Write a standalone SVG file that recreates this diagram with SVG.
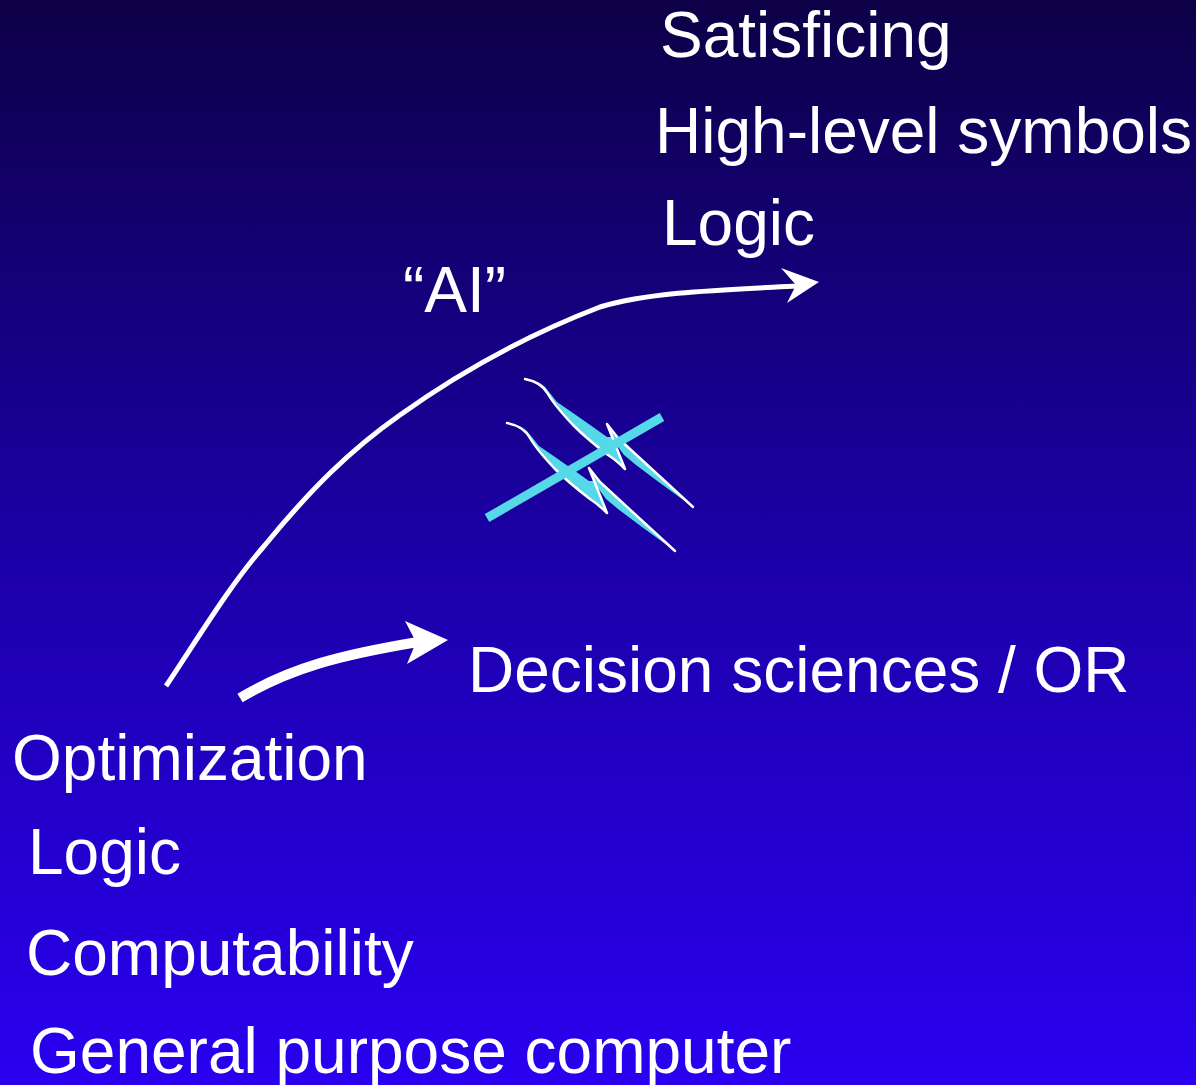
<svg xmlns="http://www.w3.org/2000/svg" width="1196" height="1085" viewBox="0 0 1196 1085">
<defs>
<linearGradient id="bg" x1="0" y1="0" x2="0" y2="1">
<stop offset="0" stop-color="#0d0047"/>
<stop offset="0.5" stop-color="#1c00a6"/>
<stop offset="1" stop-color="#2a00f0"/>
</linearGradient>
<g id="squiggle">
<path class="wave" d="M525,379 C536,381 543,385 548,394 C552,401 556,407 573,425 C585,437 595,445 608,455 C616,460 620,464 625,469 L612,437 L607,437 L593,427 L573,413 L557,402 L545,387 C540,382 533,380 525,379 Z"/>
<path class="wave" d="M607,424 L618,438 L693,507 L660,483 L636,465 L624,455 L613,440 Z"/>
<path class="wl" d="M525,379 C536,381 543,385 548,394 C552,401 556,407 573,425 C585,437 595,445 608,455 C616,460 620,464 625,469 L607,424 L618,438 L693,507"/>
</g>
</defs>
<style>
.t{font-family:"Liberation Sans",Arial,sans-serif;font-size:64px;fill:#ffffff}
.conn{fill:none;stroke:#ffffff;stroke-linecap:butt}
.head{fill:#ffffff}
.wave{fill:#55d8e8}
.wl{fill:none;stroke:#ffffff;stroke-width:2.5;stroke-linejoin:round;stroke-linecap:round}
</style>
<rect width="1196" height="1085" fill="url(#bg)"/>
<g id="connectors">
<path class="conn" stroke-width="5" d="M166,686 C200,635 230,585 265,545 C310,490 350,450 400,415 C470,365 540,330 600,307 C650,292 720,290 797,286"/>
<polygon class="head" points="819,282 781,268 796,285 787,303"/>
<path class="conn" stroke-width="10" d="M240,698 C290,668 340,655 418,642"/>
<polygon class="head" points="448,640 405,621 416,642 407,664"/>
</g>
<g id="not-equal">
<use href="#squiggle"/>
<use href="#squiggle" transform="translate(-18,44)"/>
<line x1="487" y1="518" x2="662" y2="417" stroke="#55d8e8" stroke-width="9"/>
</g>
<g id="labels">
<text class="t" x="660" y="57">Satisficing</text>
<text class="t" x="655" y="153">High-level symbols</text>
<text class="t" x="662" y="245">Logic</text>
<text class="t" x="403" y="312">“AI”</text>
<text class="t" x="468" y="692">Decision sciences / OR</text>
<text class="t" x="12" y="780">Optimization</text>
<text class="t" x="28" y="874">Logic</text>
<text class="t" x="26" y="975">Computability</text>
<text class="t" x="30" y="1073">General purpose computer</text>
</g>
</svg>
